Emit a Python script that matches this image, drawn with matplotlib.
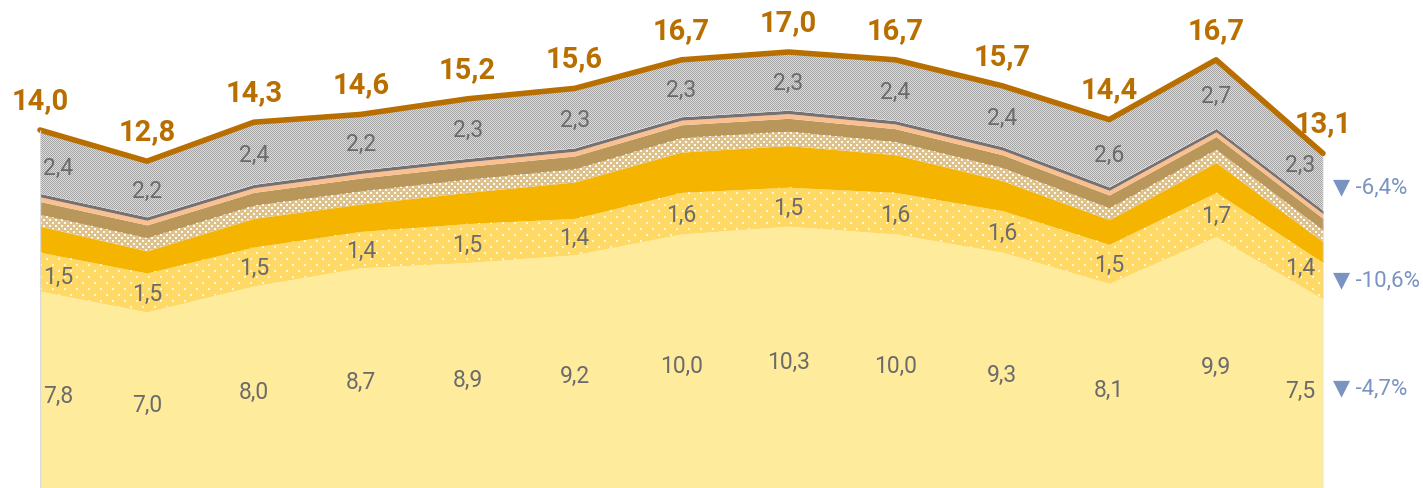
import numpy as np
import matplotlib.pyplot as plt

plt.rcParams['font.family'] = ['Roboto', 'DejaVu Sans']

x = np.arange(13)

# layers from the bottom up
light = [7.8, 7.0, 8.0, 8.7, 8.9, 9.2, 10.0, 10.3, 10.0, 9.3, 8.1, 9.9, 7.5]
dotted = [1.5, 1.5, 1.5, 1.4, 1.5, 1.4, 1.6, 1.5, 1.6, 1.6, 1.5, 1.7, 1.4]
orange = [1.0, 0.85, 1.1, 1.05, 1.2, 1.4, 1.55, 1.6, 1.45, 1.15, 0.95, 1.15, 0.8]
tan = [0.45, 0.5, 0.5, 0.5, 0.5, 0.5, 0.55, 0.55, 0.5, 0.5, 0.45, 0.5, 0.45]
brown = [0.5, 0.5, 0.5, 0.5, 0.5, 0.5, 0.5, 0.5, 0.5, 0.5, 0.5, 0.5, 0.45]
peach = [0.18] * 13
grayline = [0.13] * 13
stipple = [2.4, 2.2, 2.4, 2.2, 2.3, 2.3, 2.3, 2.3, 2.4, 2.4, 2.6, 2.7, 2.3]
totals = [14.0, 12.8, 14.3, 14.6, 15.2, 15.6, 16.7, 17.0, 16.7, 15.7, 14.4, 16.7, 13.1]

changes = ['▼ -6,4%', '▼ -10,6%', '▼ -4,7%']

W, H = 1423, 488
fig = plt.figure(figsize=(W / 100, H / 100), dpi=100)
rect = [40 / W, 0, 1283 / W, 1]
ax = fig.add_axes(rect, zorder=0)
ax2 = fig.add_axes(rect, zorder=2)
ylo, yhi = 0.23, 19.0
for a in (ax, ax2):
    a.set_xlim(0, 12)
    a.set_ylim(ylo, yhi)
    a.axis('off')
ax2.patch.set_alpha(0)

aw, ah = 1283, 488
yy, xx = np.mgrid[0:ah, 0:aw]


def overlay(poly, mask, color, alpha=1.0):
    img = np.zeros((ah, aw, 4))
    img[mask, 0] = color[0]
    img[mask, 1] = color[1]
    img[mask, 2] = color[2]
    img[mask, 3] = alpha
    im = fig.figimage(img, xo=40, yo=0, origin='upper', zorder=1)
    im.set_clip_path(poly.get_paths()[0], ax.transData)


layers = [light, dotted, orange, tan, brown, peach, grayline]
colors = ['#FFEB9C', '#FFD966', '#F4B400', '#DFC28B', '#B9975B', '#FAC090', '#777171']
bottom = np.zeros(13)
polys = []
for vals, c in zip(layers, colors):
    top = bottom + np.array(vals)
    p = ax.fill_between(x, bottom, top, color=c, lw=0)
    polys.append(p)
    bottom = top
base_stip = bottom.copy()
tot = np.array(totals)
pst = ax.fill_between(x, base_stip, tot, color='#DCDCDC', lw=0)

# textures
dots = (((xx % 12) < 2) & ((yy % 12) < 2)) | ((((xx + 6) % 12) < 2) & (((yy + 6) % 12) < 2))
overlay(polys[1], dots, (1, 1, 1), 0.75)
squares = (((xx % 6) < 2) & ((yy % 6) < 2)) | ((((xx + 3) % 6) < 2) & (((yy + 3) % 6) < 2))
overlay(polys[3], squares, (1, 1, 1), 0.95)
checker = (xx + yy) % 2 == 0
overlay(pst, checker, (0.64, 0.64, 0.64), 1.0)

# total line
ax2.plot(x, tot, color='#B96F00', lw=4, solid_joinstyle='round',
         solid_capstyle='round', clip_on=False)
ax2.vlines([0, 12], ylo, [tot[0], tot[-1]], color='#D9D9D9', lw=1)


def fmt(v):
    return f'{v:.1f}'.replace('.', ',')


for i in x:
    ax2.annotate(fmt(totals[i]), (i, totals[i]), xytext=(0, 21), textcoords='offset pixels',
                 ha='center', va='baseline', fontsize=21, fontweight='bold',
                 color='#B96F00', annotation_clip=False)

mids_d = np.array(light) + np.array(dotted) / 2
mids_l = np.array(light) / 2
mids_s = (base_stip + tot) / 2
for mids, vals in [(mids_l, light), (mids_d, dotted), (mids_s, stipple)]:
    for i in x:
        if i == 0:
            xi, ha, dx = 0.17, 'left', 3
        elif i == 12:
            xi, ha, dx = 11.79, 'right', -8
        else:
            xi, ha, dx = i, 'center', 0
        yi = np.interp(xi, x, mids)
        ax2.annotate(fmt(vals[i]), (i, yi), xytext=(dx, -2), textcoords='offset pixels',
                     ha=ha, va='center', fontsize=16.5, color='#6B6B6B')

note_y = [mids_s[-1], mids_d[-1], mids_l[-1]]
note_dy = [-6, 0, 8]
for t, yv, dy in zip(changes, note_y, note_dy):
    ax2.annotate(t, (12, yv), xytext=(10, dy), textcoords='offset pixels',
                 ha='left', va='center', fontsize=16, color='#7B93C0',
                 annotation_clip=False)

fig.savefig('out.png', dpi=100)
